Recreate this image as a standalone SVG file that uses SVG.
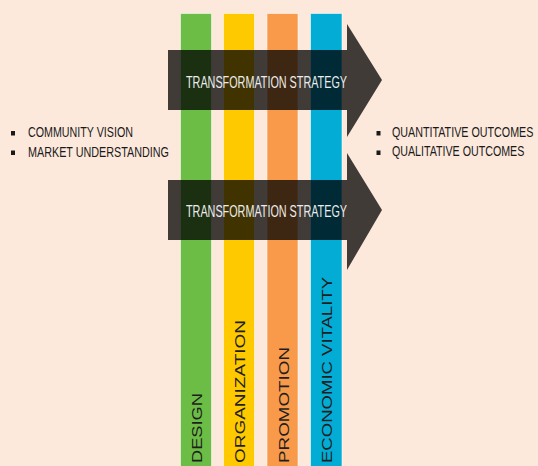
<svg xmlns="http://www.w3.org/2000/svg" width="538" height="466" viewBox="0 0 538 466">
  <defs>
    <style>
      .bar { stroke: #ffffff; stroke-opacity: 0.55; stroke-width: 1; }
      .vlabel { font-family: "Liberation Sans", Arial, sans-serif; font-size: 14.5px; fill: #1e1e1e; }
      .side { font-family: "Liberation Sans", Arial, sans-serif; font-size: 15.5px; fill: #1a1a1a; }
      .arrow { fill: #000000; fill-opacity: 0.75; }
      .atext { font-family: "Liberation Sans", Arial, sans-serif; font-size: 17px; fill: #ececec; }
      .bullet { fill: #1a1a1a; }
    </style>
  </defs>
  <rect x="0" y="0" width="538" height="466" fill="#fde9dc"/>

  <g id="design">
    <rect class="bar" x="180.5" y="13.5" width="31" height="460" fill="#6cbd45"/>
    <text class="vlabel" transform="translate(201.5,463) rotate(-90)" textLength="70" lengthAdjust="spacingAndGlyphs">DESIGN</text>
  </g>
  <g id="organization">
    <rect class="bar" x="223.5" y="13.5" width="31" height="460" fill="#ffc900"/>
    <text class="vlabel" transform="translate(245,463) rotate(-90)" textLength="143" lengthAdjust="spacingAndGlyphs">ORGANIZATION</text>
  </g>
  <g id="promotion">
    <rect class="bar" x="267" y="13.5" width="31" height="460" fill="#f89a4a"/>
    <text class="vlabel" transform="translate(288.5,463) rotate(-90)" textLength="116" lengthAdjust="spacingAndGlyphs">PROMOTION</text>
  </g>
  <g id="economic-vitality">
    <rect class="bar" x="310.5" y="13.5" width="31.5" height="460" fill="#02acd5"/>
    <text class="vlabel" transform="translate(332,463) rotate(-90)" textLength="186" lengthAdjust="spacingAndGlyphs">ECONOMIC VITALITY</text>
  </g>

  <g id="inputs">
    <rect class="bullet" x="11" y="131" width="4" height="4.5"/>
    <rect class="bullet" x="11" y="150.5" width="4" height="4.5"/>
    <g transform="translate(28,0) scale(0.7,1)">
      <text class="side" x="0" y="137.3" textLength="150" lengthAdjust="spacingAndGlyphs">COMMUNITY VISION</text>
      <text class="side" x="0" y="156.8" textLength="201.4" lengthAdjust="spacingAndGlyphs">MARKET UNDERSTANDING</text>
    </g>
  </g>

  <g id="outcomes">
    <rect class="bullet" x="376.5" y="131" width="4" height="4.5"/>
    <rect class="bullet" x="376.5" y="150.5" width="4" height="4.5"/>
    <g transform="translate(392,0) scale(0.7,1)">
      <text class="side" x="0" y="136.8" textLength="202" lengthAdjust="spacingAndGlyphs">QUANTITATIVE OUTCOMES</text>
      <text class="side" x="0" y="156.3" textLength="189" lengthAdjust="spacingAndGlyphs">QUALITATIVE OUTCOMES</text>
    </g>
  </g>

  <g id="strategy-1">
    <path class="arrow" d="M168,50 H347 V24 L382,80 L347,137 V110 H168 Z"/>
    <text class="atext" x="186" y="88.3" textLength="161" lengthAdjust="spacingAndGlyphs">TRANSFORMATION STRATEGY</text>
  </g>
  <g id="strategy-2">
    <path class="arrow" d="M168,180 H347 V153 L382,210 L347,270 V240 H168 Z"/>
    <text class="atext" x="186" y="217.3" textLength="161" lengthAdjust="spacingAndGlyphs">TRANSFORMATION STRATEGY</text>
  </g>
</svg>
